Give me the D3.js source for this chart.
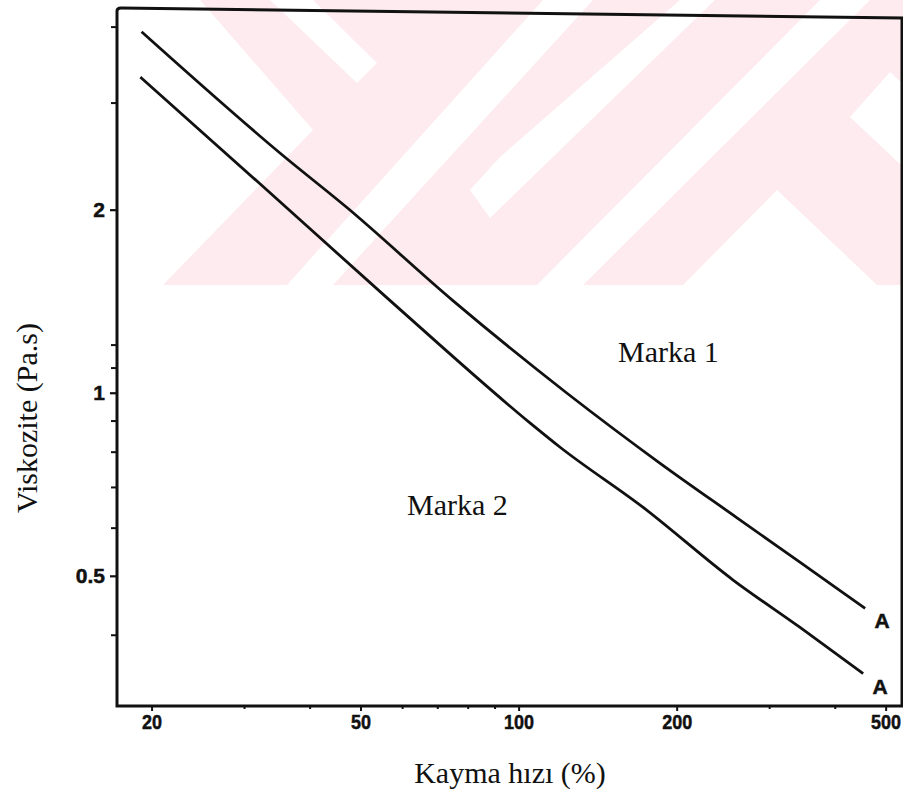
<!DOCTYPE html>
<html>
<head>
<meta charset="utf-8">
<script src="https://cdn.jsdelivr.net/npm/d3@7/dist/d3.min.js"></script>
<style>
  body { margin: 0; background: #fff; }
  svg { display: block; }
  .tick-label { font-family: "Liberation Sans", Arial, sans-serif; font-weight: bold; font-size: 21px; fill: #111; stroke: #111; stroke-width: 0.5; }
  .title { font-family: "Liberation Serif", "DejaVu Serif", serif; font-size: 30px; fill: #111; }
</style>
</head>
<body>
<svg width="903" height="792"></svg>
<script>
// shear rate (%) and viscosity (Pa.s)
var marka1Rate = [19.1, 35.5, 47, 74.8, 123.4, 185.6, 260, 343, 456];
var marka1Visc = [3.93, 2.46, 2.02, 1.42, 1.00, 0.767, 0.624, 0.527, 0.443];

var marka2Rate = [19, 32.1, 56.8, 105, 119.7, 172.3, 255.6, 342.8, 452];
var marka2Visc = [3.31, 2.21, 1.42, 0.893, 0.815, 0.649, 0.493, 0.412, 0.346];

var xTickLabels = [20, 50, 100, 200, 500];
var xMinorTicks = [30, 40, 60, 70, 80, 90, 300, 400];
var yTickLabels = [0.5, 1, 2];
var yMinorTicks = [0.4, 0.6, 0.7, 0.8, 0.9, 1.1, 1.2, 3, 4];

var xDomain = [17.15, 536];
var yDomain = [0.306, 4.3];

var svg = d3.select("svg"),
    margin = {top: 8, right: 902, bottom: 706, left: 117};

// faint pink watermark of the scanned thesis page
var wm = svg.append("g").attr("class", "watermark");
wm.append("rect")
    .attr("x", margin.left).attr("y", 0)
    .attr("width", 903 - margin.left).attr("height", 285)
    .attr("fill", "#fdebef");
var whiteBands = [
  [[margin.left, 0], [200, 0], [313, 130], [163, 285], [margin.left, 285]],
  [[270, 0], [313, 0], [377, 63], [357, 83]],
  [[287, 285], [333, 285], [593, 0], [543, 0]],
  [[470, 190], [500, 157], [680, 0], [715, 0], [490, 218]],
  [[537, 285], [583, 285], [870, 0], [820, 0]],
  [[683, 285], [777, 190], [877, 285]],
  [[850, 117], [890, 72], [903, 84], [903, 167]]
];
wm.selectAll("polygon").data(whiteBands).enter().append("polygon")
    .attr("points", function(d) { return d.join(" "); })
    .attr("fill", "#fff");

var x = d3.scaleLog().domain(xDomain).range([margin.left, margin.right]);
var y = d3.scaleLog().domain(yDomain).range([margin.bottom, margin.top]);

// frame (scan is a touch tilted: top edge drops to the right)
var x0 = x.range()[0], x1 = x.range()[1], y0 = y.range()[0], y1 = y.range()[1];
svg.append("path")
    .attr("d", "M" + x0 + "," + y0 + "L" + x0 + "," + (y1 + 3) +
               "Q" + x0 + "," + y1 + " " + (x0 + 4) + "," + y1 +
               "L" + x1 + "," + (y1 + 10) + "L" + x1 + "," + y0 + "Z")
    .attr("fill", "none")
    .attr("stroke", "#111")
    .attr("stroke-width", 3);

// x axis ticks
var xAxis = svg.append("g").attr("transform", "translate(0," + y0 + ")");
xAxis.selectAll("line.major").data(xTickLabels).enter().append("line")
    .attr("class", "major")
    .attr("x1", function(d) { return x(d); }).attr("x2", function(d) { return x(d); })
    .attr("y1", 0).attr("y2", 5)
    .attr("stroke", "#111").attr("stroke-width", 2);
xAxis.selectAll("line.minor").data(xMinorTicks).enter().append("line")
    .attr("class", "minor")
    .attr("x1", function(d) { return x(d); }).attr("x2", function(d) { return x(d); })
    .attr("y1", 0).attr("y2", 3)
    .attr("stroke", "#111").attr("stroke-width", 2);
xAxis.selectAll("text").data(xTickLabels).enter().append("text")
    .attr("class", "tick-label")
    .attr("x", function(d) { return Math.min(x(d), 886); })
    .attr("y", 23)
    .attr("text-anchor", "middle")
    .attr("textLength", function(d) { return String(d).length * 10; })
    .attr("lengthAdjust", "spacingAndGlyphs")
    .text(function(d) { return d; });

// y axis ticks
var yAxis = svg.append("g").attr("transform", "translate(" + x0 + ",0)");
yAxis.selectAll("line.major").data(yTickLabels).enter().append("line")
    .attr("class", "major")
    .attr("y1", function(d) { return y(d); }).attr("y2", function(d) { return y(d); })
    .attr("x1", 0).attr("x2", -7)
    .attr("stroke", "#111").attr("stroke-width", 2.2);
yAxis.selectAll("line.minor").data(yMinorTicks).enter().append("line")
    .attr("class", "minor")
    .attr("y1", function(d) { return y(d); }).attr("y2", function(d) { return y(d); })
    .attr("x1", 0).attr("x2", -6)
    .attr("stroke", "#111").attr("stroke-width", 2);
yAxis.selectAll("text").data(yTickLabels).enter().append("text")
    .attr("class", "tick-label")
    .attr("x", -12)
    .attr("y", function(d) { return y(d) + 7; })
    .attr("text-anchor", "end")
    .text(function(d) { return d === 0.5 ? "0.5" : d; });

// curves
var line = d3.line()
    .curve(d3.curveMonotoneX)
    .x(function(d) { return x(d[0]); })
    .y(function(d) { return y(d[1]); });

var series = [
  { name: "Marka 1", pts: d3.zip(marka1Rate, marka1Visc) },
  { name: "Marka 2", pts: d3.zip(marka2Rate, marka2Visc) }
];

svg.selectAll("path.curve").data(series).enter().append("path")
    .attr("class", "curve")
    .attr("d", function(d) { return line(d.pts); })
    .attr("fill", "none")
    .attr("stroke", "#111")
    .attr("stroke-width", 2.8);

// "A" end markers
svg.selectAll("text.end").data(series).enter().append("text")
    .attr("class", "tick-label end")
    .attr("x", function(d) { return x(d.pts[d.pts.length - 1][0]) + 17; })
    .attr("y", function(d) { return y(d.pts[d.pts.length - 1][1]) + 20; })
    .attr("text-anchor", "middle")
    .text("A");

// in-plot labels
svg.append("text").attr("class", "title")
    .attr("x", 618).attr("y", 362)
    .text("Marka 1");
svg.append("text").attr("class", "title")
    .attr("x", 407).attr("y", 515)
    .text("Marka 2");

// axis titles
svg.append("text").attr("class", "title")
    .attr("x", 510).attr("y", 783)
    .attr("text-anchor", "middle")
    .text("Kayma hızı (%)");
svg.append("text").attr("class", "title")
    .attr("transform", "translate(37,418) rotate(-90)")
    .attr("text-anchor", "middle")
    .text("Viskozite (Pa.s)");
</script>
</body>
</html>
